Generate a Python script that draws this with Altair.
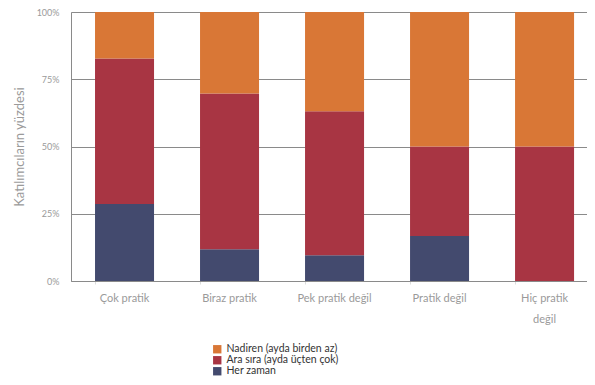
import altair as alt
import pandas as pd

categories = ["Çok pratik", "Biraz pratik", "Pek pratik değil", "Pratik değil", "Hiç pratik değil"]
series = ["Nadiren (ayda birden az)", "Ara sıra (ayda üçten çok)", "Her zaman"]
her_zaman = [28.6, 11.8, 9.6, 16.7, 0.0]
ara_sira = [54.1, 57.9, 53.5, 33.3, 50.0]
nadiren = [17.3, 30.3, 36.9, 50.0, 50.0]
colors = ["#D97736", "#A83543", "#434A6E"]

rows = []
for i, c in enumerate(categories):
    for s, vals, o in [(series[2], her_zaman, 0), (series[1], ara_sira, 1), (series[0], nadiren, 2)]:
        rows.append({"cat": c, "series": s, "value": vals[i] / 100.0, "ord": o})
df = pd.DataFrame(rows)

font = "Lato"
chart = alt.Chart(df).mark_bar().encode(
    x=alt.X("cat:N", sort=categories, title=None,
            scale=alt.Scale(paddingInner=0.438, paddingOuter=0.176, align=0.65),
            axis=alt.Axis(labelAngle=0, labelColor="#9a9a9a", labelFontSize=11, labelFont=font,
                          labelPadding=8, labelLineHeight=21, domainColor="#8a8a8a",
                          tickColor="#dddddd", tickSize=3, bandPosition=0,
                          labelExpr="datum.label == 'Hiç pratik değil' ? ['Hiç pratik', 'değil'] : datum.label")),
    y=alt.Y("value:Q", stack="zero", title="Katılımcıların yüzdesi",
            scale=alt.Scale(domain=[0, 1]),
            axis=alt.Axis(values=[0, 0.25, 0.5, 0.75, 1], format=".0%", labelColor="#9a9a9a",
                          labelFontSize=9, labelFont=font, labelPadding=12, tickSize=0,
                          domainColor="#8a8a8a", gridColor="#8a8a8a", titleColor="#9a9a9a",
                          titleFont=font, titleFontSize=13, titleFontWeight="normal",
                          titlePadding=10)),
    color=alt.Color("series:N", sort=series,
                    scale=alt.Scale(domain=series, range=colors),
                    legend=alt.Legend(title=None, orient="none", legendX=141, legendY=332,
                                      symbolType="square", symbolSize=70, symbolStrokeWidth=0,
                                      labelFont=font, labelFontSize=10.5, labelColor="#333333",
                                      rowPadding=-1, symbolOpacity=1)),
    order=alt.Order("ord:Q", sort="ascending"),
).properties(
    width=516, height=269,
    autosize=alt.AutoSizeParams(type="none"),
    padding={"left": 63, "top": 4, "right": 0, "bottom": 95},
).configure_view(stroke=None).configure(background="white")

chart.save("out.html", embed_options={"renderer": "svg", "actions": False})
